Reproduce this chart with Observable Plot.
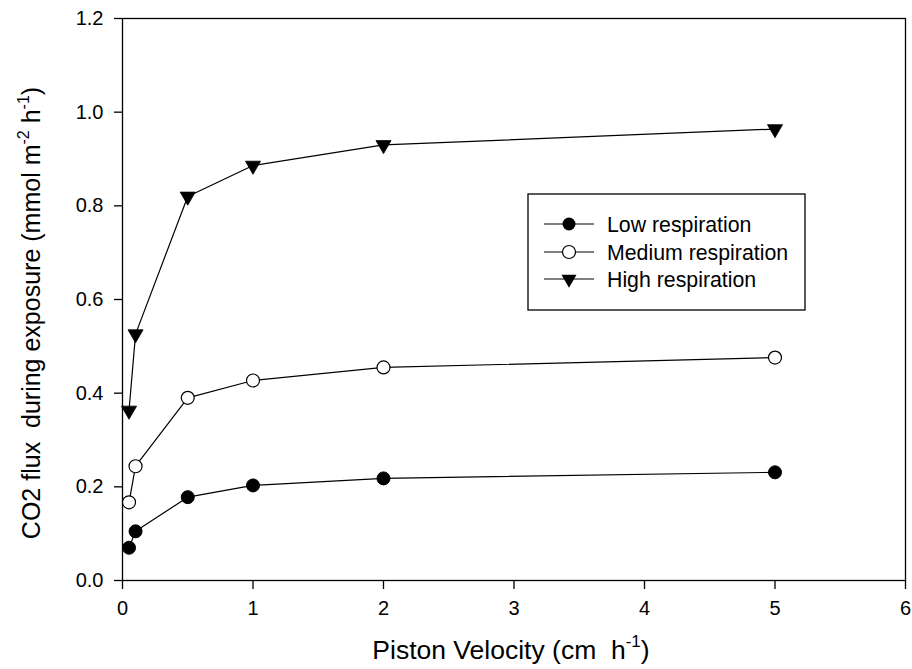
<!DOCTYPE html>
<html><head><meta charset="utf-8">
<script src="https://cdn.jsdelivr.net/npm/d3@7"></script>
<script src="https://cdn.jsdelivr.net/npm/@observablehq/plot@0.6"></script>
<style>
body{margin:0;background:#fff;}
svg{font-family:"Liberation Sans",Arial,Helvetica,sans-serif;}
</style>
</head><body><div id="chart"></div>
<script>
// Data
const velocity = [0.05, 0.1, 0.5, 1, 2, 5];
const lowResp = [0.070, 0.105, 0.178, 0.203, 0.218, 0.231];
const mediumResp = [0.167, 0.244, 0.390, 0.427, 0.455, 0.476];
const highResp = [0.363, 0.526, 0.820, 0.886, 0.930, 0.964];
const seriesNames = ["Low respiration", "Medium respiration", "High respiration"];
const xTicks = [0, 1, 2, 3, 4, 5, 6];
const yTicks = [0, 0.2, 0.4, 0.6, 0.8, 1.0, 1.2];

const low = velocity.map((v, i) => ({x: v, y: lowResp[i], s: seriesNames[0]}));
const medium = velocity.map((v, i) => ({x: v, y: mediumResp[i], s: seriesNames[1]}));
const high = velocity.map((v, i) => ({x: v, y: highResp[i], s: seriesNames[2]}));

const chart = Plot.plot({
  width: 912, height: 669,
  marginLeft: 122, marginRight: 7, marginTop: 18, marginBottom: 89,
  style: {background: "white", color: "black", fontSize: "20px", fontFamily: '"Liberation Sans",Arial,sans-serif', overflow: "visible"},
  x: {domain: [0, 6], label: null},
  y: {domain: [0, 1.2], label: null},
  marks: [
    Plot.frame({stroke: "black", strokeWidth: 1.3}),
    Plot.axisX({ticks: xTicks, tickSize: 9, tickPadding: 11, tickFormat: "d", label: null, fontSize: 20, strokeWidth: 1.3}),
    Plot.axisY({ticks: yTicks, tickSize: 8, tickPadding: 11, tickFormat: ".1f", label: null, fontSize: 20, strokeWidth: 1.3}),
    Plot.line(low, {x: "x", y: "y", stroke: "black", strokeWidth: 1.2}),
    Plot.line(medium, {x: "x", y: "y", stroke: "black", strokeWidth: 1.2}),
    Plot.line(high, {x: "x", y: "y", stroke: "black", strokeWidth: 1.2}),
    Plot.dot(low, {x: "x", y: "y", r: 6.5, fill: "black", stroke: "black", strokeWidth: 1}),
    Plot.dot(medium, {x: "x", y: "y", r: 6.5, fill: "white", stroke: "black", strokeWidth: 1.2}),
    Plot.dot(high, {x: "x", y: "y", symbol: "triangle", r: 5.6, rotate: 180, fill: "black", stroke: "black", strokeWidth: 0.8})
  ]
});

const svg = d3.select(chart);

// Axis titles with superscripts
const yTitle = svg.append("text")
  .attr("transform", "translate(40,313) rotate(-90)")
  .attr("text-anchor", "middle")
  .attr("font-size", 25)
  .attr("fill", "black")
  .style("white-space", "pre");
yTitle.append("tspan").text("CO2 flux  during exposure (mmol m");
yTitle.append("tspan").attr("font-size", 16).attr("dy", -11).text("-2");
yTitle.append("tspan").attr("dy", 11).text(" h");
yTitle.append("tspan").attr("font-size", 16).attr("dy", -11).text("-1");
yTitle.append("tspan").attr("dy", 11).text(")");

const xTitle = svg.append("text")
  .attr("x", 511).attr("y", 659)
  .attr("text-anchor", "middle")
  .attr("font-size", 26.5)
  .attr("fill", "black")
  .style("white-space", "pre");
xTitle.append("tspan").text("Piston Velocity (cm  h");
xTitle.append("tspan").attr("font-size", 17).attr("dy", -12).text("-1");
xTitle.append("tspan").attr("dy", 12).text(")");

// Legend
const lg = svg.append("g").attr("text-anchor", "start");
lg.append("rect").attr("x", 528).attr("y", 194).attr("width", 277).attr("height", 116)
  .attr("fill", "white").attr("stroke", "black").attr("stroke-width", 1.3);
const rowsY = [224, 252, 279];
seriesNames.forEach((name, i) => {
  const y = rowsY[i];
  lg.append("line").attr("x1", 544).attr("x2", 594).attr("y1", y).attr("y2", y)
    .attr("stroke", "black").attr("stroke-width", 1.2);
  if (i === 0) {
    lg.append("circle").attr("cx", 569).attr("cy", y).attr("r", 6.5).attr("fill", "black");
  } else if (i === 1) {
    lg.append("circle").attr("cx", 569).attr("cy", y).attr("r", 6.5).attr("fill", "white")
      .attr("stroke", "black").attr("stroke-width", 1.2);
  } else {
    lg.append("path").attr("d", d3.symbol(d3.symbolTriangle, 5.6 * 5.6 * Math.PI)())
      .attr("transform", `translate(569,${y}) rotate(180)`).attr("fill", "black");
  }
  lg.append("text").attr("x", 607).attr("y", y).attr("dy", "0.36em")
    .attr("text-anchor", "start")
    .attr("font-size", 21.3).attr("fill", "black").text(name);
});

document.getElementById("chart").appendChild(chart);
</script>
</body></html>
